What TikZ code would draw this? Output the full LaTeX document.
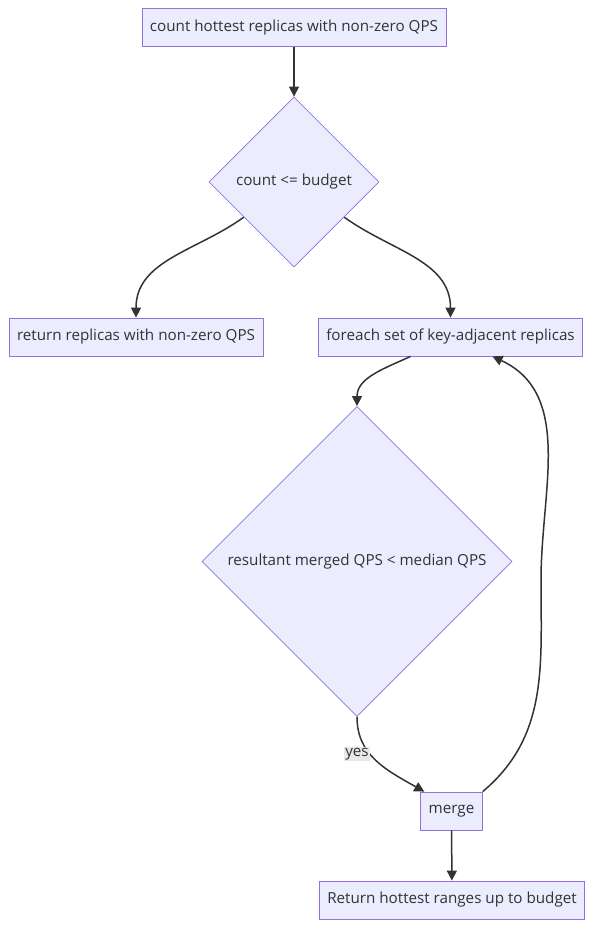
\documentclass[tikz,border=0pt]{standalone}
\usepackage{fontspec}
\setmainfont{Open Sans}
\usepackage{xcolor}
\usetikzlibrary{shapes.geometric, arrows.meta, positioning}

\definecolor{nodefill}{HTML}{ECECFF}
\definecolor{nodeline}{HTML}{9370DB}
\definecolor{edgeline}{HTML}{333333}
\definecolor{lblfill}{HTML}{E8E8E8}

\begin{document}
\begin{tikzpicture}[
  x=1pt, y=1pt,
  box/.style={rectangle, draw=nodeline, fill=nodefill, line width=0.8pt, minimum height=38pt, inner xsep=8pt, text=edgeline, font=\fontsize{15.2}{18}\selectfont},
  choice/.style={diamond, draw=nodeline, fill=nodefill, line width=0.8pt, aspect=1, inner sep=0pt, text=edgeline, font=\fontsize{15.2}{18}\selectfont},
  flow/.style={draw=edgeline, line width=1.5pt, -{Triangle[length=10pt, width=10pt]}},
  lbl/.style={fill=lblfill, text=edgeline, inner sep=1pt, font=\fontsize{15.2}{18}\selectfont},
]
\useasboundingbox (0,0) rectangle (597,-929);

\node[box] (count) at (294,-27.5) {count hottest replicas with non-zero QPS};
\node[choice, minimum width=170pt, minimum height=170pt] (budget) at (294,-182) {count <= budget};
\node[box] (retall) at (136,-337) {return replicas with non-zero QPS};
\node[box] (foreach) at (450.5,-337) {foreach set of key-adjacent replicas};
\node[choice, minimum width=310pt, minimum height=310pt] (median) at (357,-561.5) {resultant merged QPS < median QPS};
\node[box] (merge) at (451.5,-811) {merge};
\node[box] (rethot) at (452,-900) {Return hottest ranges up to budget};

\coordinate (loop) at (541,-580);

\draw[flow] (count) -- (budget);
\draw[flow] (budget.215) to[out=216, in=90] (retall.north);
\draw[flow] (budget.-35) to[out=-36, in=90] (foreach.north);
\draw[flow] ([xshift=-40pt]foreach.south) to[out=205, in=90] (median.north);
\draw[flow] (median.south) .. controls ([yshift=-38pt]median.south) and ([shift={(-35,22)}]merge.north west) .. ([xshift=4pt]merge.north west);
\node[lbl] (yes) at ([yshift=-37pt]median.south) {yes};
\draw[flow] (merge.north east) to[out=40, in=-90] (loop) to[out=90, in=-25] ([xshift=42pt]foreach.south);
\draw[flow] (merge) -- (rethot);
\end{tikzpicture}
\end{document}
